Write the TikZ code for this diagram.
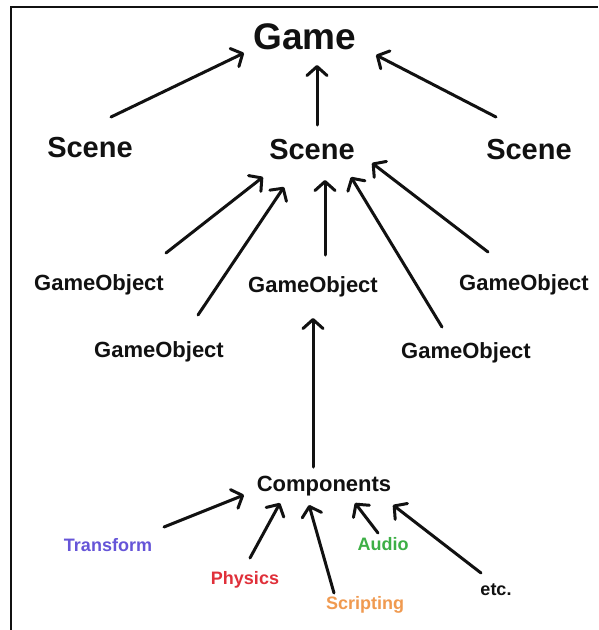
\documentclass[tikz,border=0pt]{standalone}
\usepackage{fontspec}
\setmainfont{Liberation Sans}
\usetikzlibrary{arrows.meta,calc}

\definecolor{ink}{HTML}{111111}
\definecolor{transformblue}{HTML}{6655D8}
\definecolor{physicsred}{HTML}{E0303A}
\definecolor{scriptorange}{HTML}{F09A50}
\definecolor{audiogreen}{HTML}{3DAF45}

\tikzset{
  lbl/.style={inner sep=0pt, text=ink, font=\bfseries},
  gamelbl/.style={lbl, font=\fontsize{37}{40}\selectfont\bfseries},
  scenelbl/.style={lbl, font=\fontsize{29}{31}\selectfont\bfseries},
  objlbl/.style={lbl, font=\fontsize{22}{24}\selectfont\bfseries},
  complbl/.style={lbl, font=\fontsize{22}{24}\selectfont\bfseries},
  partlbl/.style={lbl, font=\fontsize{18}{20}\selectfont\bfseries},
  arr/.style={draw=ink, line width=3pt, line cap=round,
    -{Straight Barb[length=9pt,width=20pt,round]}},
}

\begin{document}
\begin{tikzpicture}[x=1pt,y=-1pt]
  \useasboundingbox (0,0) rectangle (598,630);
  \fill[white] (0,0) rectangle (598,630);
  % frame: left and top edges only
  \draw[line width=2pt, ink] (11,630) -- (11,7) -- (598,7);

  % top level
  \node[gamelbl] (game) at (305,37) {Game};

  % scenes
  \node[scenelbl] (scL) at (90,148) {Scene};
  \node[scenelbl] (scC) at (312,150) {Scene};
  \node[scenelbl] (scR) at (529,150) {Scene};

  % game objects
  \node[objlbl] (go1) at (99,285) {GameObject};
  \node[objlbl] (go2) at (159,352) {GameObject};
  \node[objlbl] (go3) at (313,287) {GameObject};
  \node[objlbl] (go4) at (466,353) {GameObject};
  \node[objlbl] (go5) at (524,285) {GameObject};

  % components
  \node[complbl] (comp) at (324,486) {Components};
  \node[partlbl, text=transformblue] (tr) at (108,545) {Transform};
  \node[partlbl, text=physicsred] (ph) at (245,580) {Physics};
  \node[partlbl, text=scriptorange] (sc) at (365,605) {Scripting};
  \node[partlbl, text=audiogreen] (au) at (383,544) {Audio};
  \node[partlbl] (etc) at (496,590) {etc.};

  % scenes -> game
  \draw[arr] ($(scL)+(21,-31)$) -- ($(game)+(-61,16)$);
  \draw[arr] ($(scC)+(5,-25)$) -- ($(game)+(12,28)$);
  \draw[arr] ($(scR)+(-33,-33)$) -- ($(game)+(71,18)$);

  % game objects -> scene
  \draw[arr] ($(go1)+(67,-32)$) -- ($(scC)+(-49,27)$);
  \draw[arr] ($(go2)+(39,-37)$) -- ($(scC)+(-28,37)$);
  \draw[arr] ($(go3)+(12,-32)$) -- ($(scC)+(13,30)$);
  \draw[arr] ($(go4)+(-24,-26)$) -- ($(scC)+(39,27)$);
  \draw[arr] ($(go5)+(-36,-33)$) -- ($(scC)+(60,13)$);

  % components -> game object
  \draw[arr] ($(comp)+(-11,-19)$) -- ($(go3)+(0,31)$);

  % individual components -> components
  \draw[arr] ($(tr)+(56,-18)$) -- ($(comp)+(-80,9)$);
  \draw[arr] ($(ph)+(5,-22)$) -- ($(comp)+(-44,17)$);
  \draw[arr] ($(sc)+(-31,-12)$) -- ($(comp)+(-15,19)$);
  \draw[arr] ($(au)+(-5,-11)$) -- ($(comp)+(31,17)$);
  \draw[arr] ($(etc)+(-15,-17)$) -- ($(comp)+(69,19)$);
\end{tikzpicture}
\end{document}
